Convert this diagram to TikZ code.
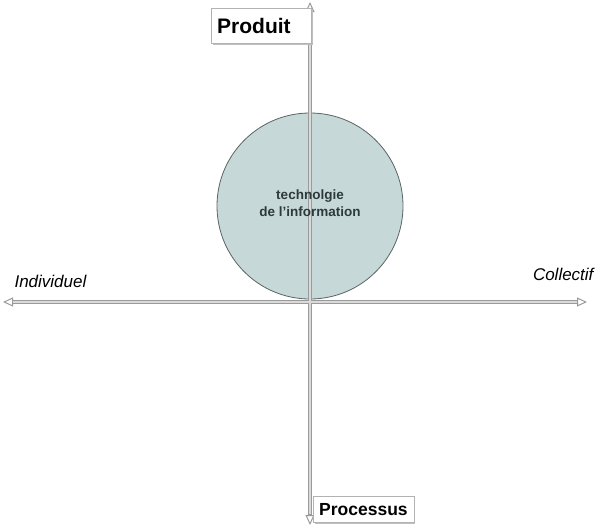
\documentclass[tikz,border=0pt]{standalone}
\usepackage{fontspec}
\setmainfont{Liberation Sans}
\usetikzlibrary{arrows.meta,shadows}
\definecolor{axisgray}{HTML}{DADADA}
\definecolor{axisedge}{HTML}{9A9A9A}
\definecolor{circfill}{HTML}{C6D8D8}
\definecolor{circedge}{HTML}{5A6464}
\definecolor{txtdark}{HTML}{2E3A3A}
\begin{document}
\begin{tikzpicture}[x=1pt,y=-1pt,
  axis/.style={draw=axisedge,line width=3.5pt,
    -{Triangle[open,length=10pt,width=9pt,line width=1pt]}},
  axisin/.style={draw=axisgray,line width=1.5pt},
  labelbox/.style={draw=gray!60,fill=white,font=\bfseries\fontsize{21}{24}\selectfont,
    inner xsep=6pt,inner ysep=5pt,
    drop shadow={shadow xshift=1.5pt,shadow yshift=-1.5pt,fill=gray!50,opacity=1}},
  axlabel/.style={font=\itshape\fontsize{17}{19}\selectfont}]
\useasboundingbox (0,0) rectangle (597,528);
\coordinate (top) at (310,2);
\coordinate (bot) at (310,525);
\coordinate (left) at (3,302);
\coordinate (right) at (587,302);
\coordinate (ctr) at (310,302);
% circle
\node[circle,draw=circedge,line width=0.8pt,fill=circfill,minimum size=186pt,
  inner sep=0pt] (tech) at (310,206) {};
% axes
\draw[axis] (ctr) -- (top);
\draw[axis] (ctr) -- (bot);
\draw[axis] (ctr) -- (left);
\draw[axis] (ctr) -- (right);
\draw[axisin] (310,12) -- (310,514);
\draw[axisin] (13,302) -- (577,302);
\node[font=\bfseries\fontsize{13.5}{17}\selectfont,text=txtdark,align=center] (techtxt) at (310,203)
  {technolgie\\de l'information};
% labels
\node[labelbox,anchor=north west,minimum width=100pt,minimum height=35pt,text width=88pt] (prod) at (211,8) {Produit};
\node[labelbox,anchor=north west,font=\bfseries\fontsize{17.5}{20}\selectfont,inner ysep=3pt,minimum height=26pt] (proc) at (313,496) {Processus};
\node[axlabel,anchor=west] (ind) at (11,281) {Individuel};
\node[axlabel,anchor=east] (col) at (597,274) {Collectif};
\end{tikzpicture}
\end{document}
